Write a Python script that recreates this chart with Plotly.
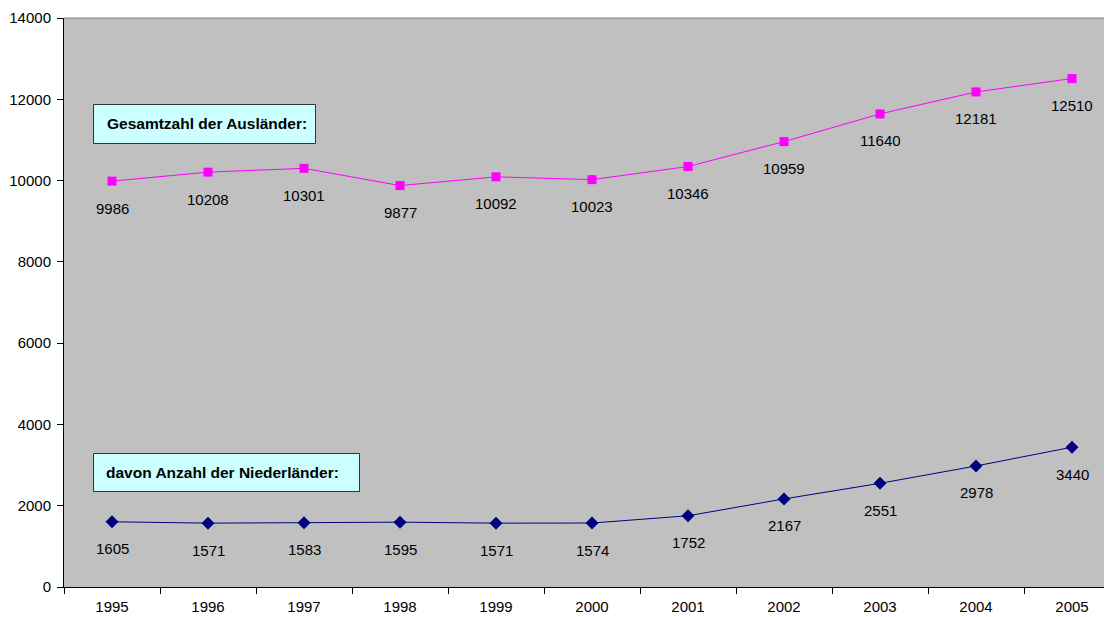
import plotly.graph_objects as go

years = ["1995", "1996", "1997", "1998", "1999", "2000", "2001", "2002", "2003", "2004", "2005"]
gesamt = [9986, 10208, 10301, 9877, 10092, 10023, 10346, 10959, 11640, 12181, 12510]
nieder = [1605, 1571, 1583, 1595, 1571, 1574, 1752, 2167, 2551, 2978, 3440]
label_gesamt = "Gesamtzahl der Ausländer:"
label_nieder = "davon Anzahl der Niederländer:"

FONT = "Arial, Liberation Sans, sans-serif"

# page body has an 8px margin; compensate
OFF = 8
L, T, B = 64, 18, 587          # target pixel positions of plot area in the window
W, H = 1112 - OFF, 617 - OFF
plot_w = 1112 - L
plot_h = B - T
YMAX = 14000


def px_x(px):
    return (px - L) / plot_w


def px_y(py):
    return (B - py) / plot_h * YMAX


fig = go.Figure()
fig.add_trace(go.Scatter(
    x=years, y=gesamt, mode="lines+markers",
    line=dict(color="#FF00FF", width=1),
    marker=dict(symbol="square", size=9, color="#FF00FF"),
    hoverinfo="x+y", showlegend=False,
))
fig.add_trace(go.Scatter(
    x=years, y=nieder, mode="lines+markers",
    line=dict(color="#000080", width=1),
    marker=dict(symbol="diamond", size=10, color="#000080"),
    hoverinfo="x+y", showlegend=False,
))

annotations = []
for i, v in enumerate(gesamt):
    annotations.append(dict(x=i, y=v, xref="x", yref="y", text=str(v), showarrow=False, yshift=-27,
                            font=dict(family=FONT, size=15, color="black")))
for i, v in enumerate(nieder):
    annotations.append(dict(x=i, y=v, xref="x", yref="y", text=str(v), showarrow=False, yshift=-27,
                            font=dict(family=FONT, size=15, color="black")))

annotations.append(dict(
    xref="paper", yref="y", x=px_x(105), y=px_y(123.5), xanchor="left", yanchor="middle",
    text="<b>" + label_gesamt + "</b>", showarrow=False,
    font=dict(family=FONT, size=15.5, color="black"),
))
annotations.append(dict(
    xref="paper", yref="y", x=px_x(104), y=px_y(472), xanchor="left", yanchor="middle",
    text="<b>" + label_nieder + "</b>", showarrow=False,
    font=dict(family=FONT, size=15.5, color="black"),
))

shapes = [
    dict(type="rect", xref="paper", yref="y", x0=px_x(93.5), x1=px_x(315.5), y0=px_y(104.5), y1=px_y(143.5),
         fillcolor="#CCFFFF", line=dict(color="#333333", width=1), layer="above"),
    dict(type="rect", xref="paper", yref="y", x0=px_x(93.5), x1=px_x(359.5), y0=px_y(453.5), y1=px_y(491.5),
         fillcolor="#CCFFFF", line=dict(color="#333333", width=1), layer="above"),
    dict(type="line", xref="paper", yref="paper", x0=0, x1=1, y0=1, y1=1,
         line=dict(color="#808080", width=1)),
]

fig.update_layout(
    width=W, height=H,
    margin=dict(l=L - OFF, r=0, t=T - OFF, b=617 - B, autoexpand=False),
    paper_bgcolor="white", plot_bgcolor="#C0C0C0",
    font=dict(family=FONT, size=15, color="black"),
    annotations=annotations,
    shapes=shapes,
)
fig.update_xaxes(
    type="category", range=[-0.5, (plot_w / 96) - 0.5],
    showline=True, linecolor="black", linewidth=1,
    ticks="outside", ticklen=6, tickcolor="black", tickson="boundaries",
    showgrid=False, zeroline=False, ticklabelstandoff=6,
    tickfont=dict(family=FONT, size=15, color="black"),
)
fig.update_yaxes(
    range=[0, YMAX], dtick=2000, tickformat="d",
    showline=True, linecolor="black", linewidth=1,
    ticks="outside", ticklen=6, tickcolor="black",
    showgrid=False, zeroline=False, ticklabelstandoff=3,
    tickfont=dict(family=FONT, size=15, color="black"),
)

fig.write_html("out.html")
